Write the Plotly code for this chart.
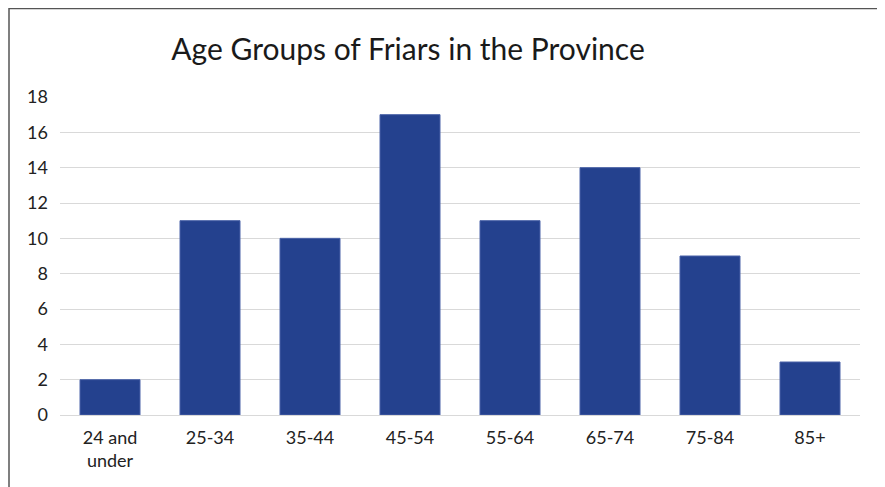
import plotly.graph_objects as go

categories = ["24 and<br>under", "25-34", "35-44", "45-54", "55-64", "65-74", "75-84", "85+"]
friars = [2, 11, 10, 17, 11, 14, 9, 3]
y_ticks = [0, 2, 4, 6, 8, 10, 12, 14, 16, 18]

fig = go.Figure(go.Bar(
    x=categories, y=friars,
    marker=dict(color="#24418e", line=dict(color="#4a63a8", width=1)),
    width=0.6,
))

fig.update_layout(
    width=885, height=487,
    margin=dict(l=52, r=33, t=89, b=80),
    paper_bgcolor="white", plot_bgcolor="white",
    font=dict(family="Lato, 'Open Sans', sans-serif", color="#222222", size=18),
    title=dict(text="Age Groups of Friars in the Province", x=0.452, xref="container", xanchor="center",
               y=0.914, yref="container", yanchor="middle",
               font=dict(size=30, color="#1a1a1a")),
    showlegend=False,
    bargap=0.4,
)
fig.update_yaxes(range=[0, 18], tickvals=y_ticks, showgrid=True, gridcolor="#d9d9d9", gridwidth=1,
                 zeroline=False, showline=False, ticklabelstandoff=11, tickfont=dict(size=18))
fig.update_xaxes(showline=True, linecolor="#d9d9d9", linewidth=1, ticklabelstandoff=6, tickfont=dict(size=18))

fig.add_shape(type="rect", xref="paper", yref="paper",
              x0=(1-52)/800, x1=(872.5-52)/800, y0=(407-520)/318, y1=(407-0.5)/318,
              line=dict(color="#555555", width=1.5), fillcolor="rgba(0,0,0,0)", layer="above")

fig.write_html("out.html")
